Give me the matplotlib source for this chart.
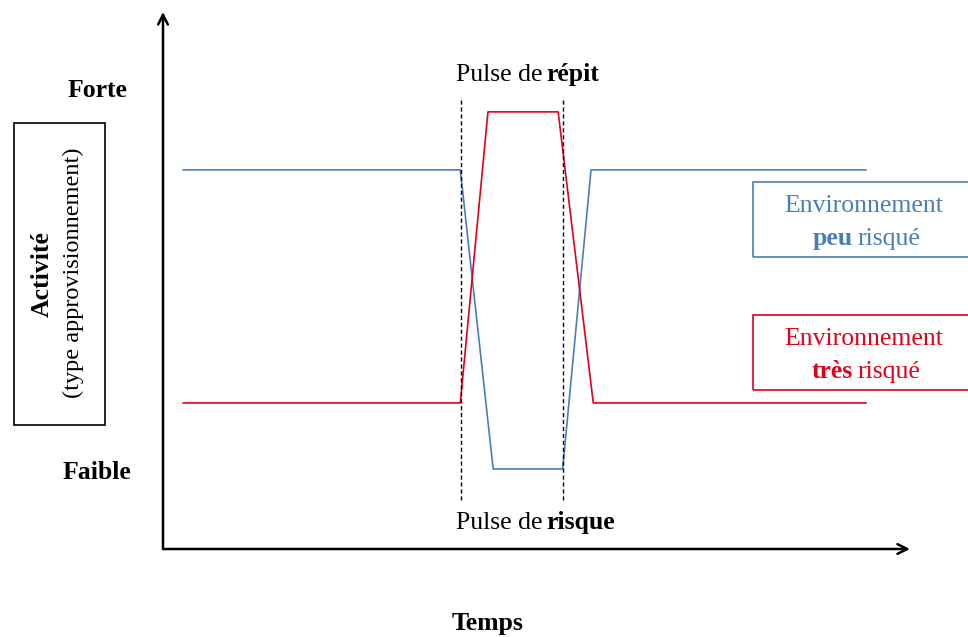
# Activité vs Temps : pulse de répit / pulse de risque
import matplotlib.pyplot as plt
from matplotlib.patches import Rectangle

plt.rcParams['font.family'] = ['Liberation Serif', 'DejaVu Serif']

W, H = 968, 637

# time axis 0..100, activity axis 0..100 (arbitrary units)
temps_peu = [2.7, 39.8, 44.2, 53.5, 57.3, 94.1]
act_peu = [70.6, 70.6, 14.9, 14.9, 70.6, 70.6]
temps_tres = [2.7, 39.8, 43.5, 52.9, 57.6, 94.1]
act_tres = [27.2, 27.2, 81.4, 81.4, 27.2, 27.2]
pulses = [39.9, 53.5]
pulse_bas, pulse_haut = 9.1, 84.2

bleu = '#4a7ebb'
rouge = '#e3001b'
fs = 18.5

fig = plt.figure(figsize=(W / 100, H / 100), dpi=100)
ax = fig.add_axes([163 / W, (H - 549) / H, 747 / W, 537 / H])
ax.set_xlim(0, 100)
ax.set_ylim(0, 100)
ax.axis('off')

# axes with arrows
arrow = dict(arrowstyle='->, head_length=0.7, head_width=0.35', lw=1.8,
             color='black', shrinkA=0, shrinkB=0)
ax.annotate('', xy=(0, 1), xytext=(0, 0), xycoords='axes fraction', arrowprops=arrow)
ax.annotate('', xy=(1, 0), xytext=(0, 0), xycoords='axes fraction', arrowprops=arrow)

ax.plot(temps_peu, act_peu, color=bleu, lw=1.2)
ax.plot(temps_tres, act_tres, color=rouge, lw=1.2)
for p in pulses:
    ax.plot([p, p], [pulse_bas, pulse_haut], color='black', lw=1, ls=(0, (3, 2)))


def px(x, y):
    return x / W, 1 - y / H


renderer = fig.canvas.get_renderer()


def width(txt, bold):
    t = fig.text(0, 0, txt, fontsize=fs, fontweight='bold' if bold else 'normal')
    w = t.get_window_extent(renderer).width
    t.remove()
    return w


space = 0.6 * (width('a a', False) - width('aa', False))


def chain(x, y, parts, color='black'):
    # parts drawn left to right from pixel x, words separated by one space
    for i, (txt, b) in enumerate(parts):
        fig.text(*px(x, y), txt, fontsize=fs, color=color, va='baseline', ha='left',
                 fontweight='bold' if b else 'normal')
        x += width(txt, b) + space


fig.text(*px(97, 97), 'Forte', fontsize=fs, fontweight='bold', ha='center', va='baseline')
fig.text(*px(97, 479), 'Faible', fontsize=fs, fontweight='bold', ha='center', va='baseline')
fig.text(*px(488, 630), 'Temps', fontsize=fs, fontweight='bold', ha='center', va='baseline')

chain(456, 81, [('Pulse de', False), ('répit', True)])
chain(456, 529, [('Pulse de', False), ('risque', True)])

# y label box
fig.patches.append(Rectangle(px(14, 425), 91 / W, 302 / H, transform=fig.transFigure,
                             fill=False, lw=1.2, edgecolor='black'))
fig.text(*px(42, 274), 'Activité', fontsize=fs, fontweight='bold', rotation=90,
         ha='center', va='center')
fig.text(*px(73, 273), '(type approvisionnement)', fontsize=17.5, rotation=90,
         ha='center', va='center')

# legend boxes
fig.patches.append(Rectangle(px(753, 257), 230 / W, 75 / H, transform=fig.transFigure,
                             fill=False, lw=1.2, edgecolor=bleu))
fig.text(*px(864, 212), 'Environnement', fontsize=fs, color=bleu, ha='center', va='baseline')
chain(813, 245, [('peu', True), ('risqué', False)], color=bleu)

fig.patches.append(Rectangle(px(753, 390), 230 / W, 75 / H, transform=fig.transFigure,
                             fill=False, lw=1.2, edgecolor=rouge))
fig.text(*px(864, 345), 'Environnement', fontsize=fs, color=rouge, ha='center', va='baseline')
chain(812, 378, [('très', True), ('risqué', False)], color=rouge)

fig.savefig('out.png', dpi=100)
